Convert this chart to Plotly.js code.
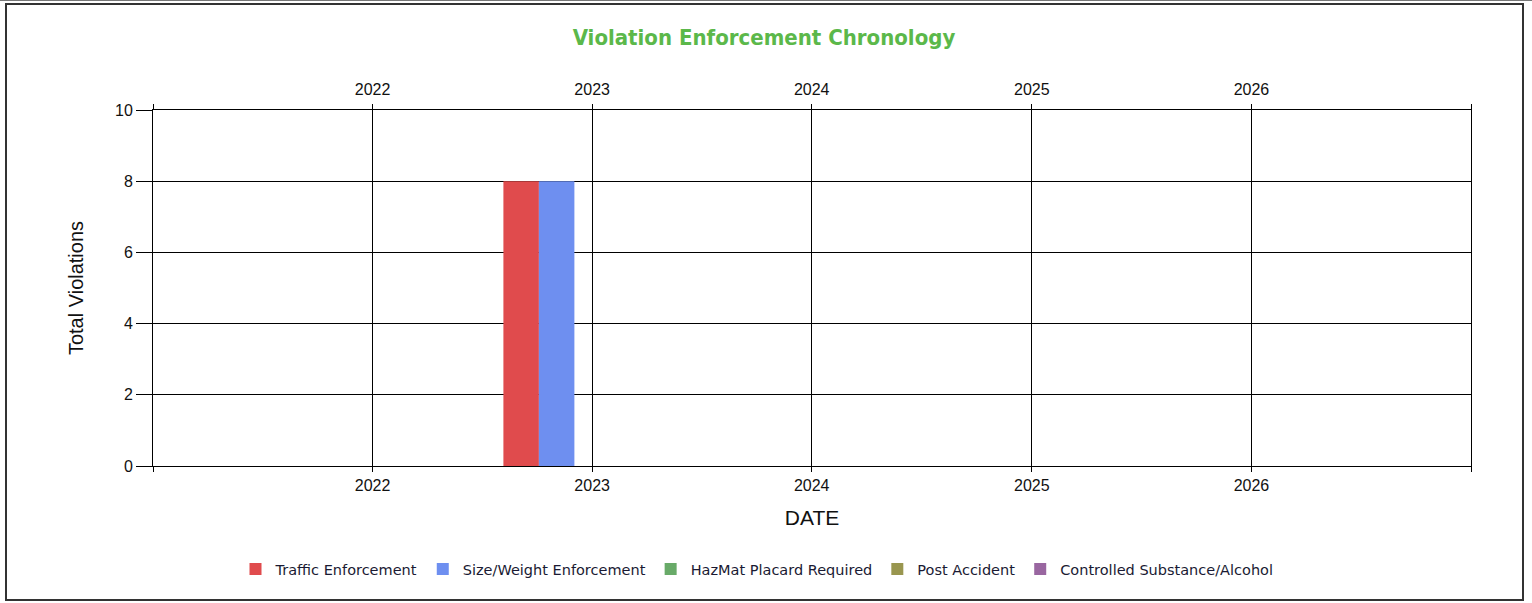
<!DOCTYPE html>
<html>
<head>
<meta charset="utf-8">
<script src="https://cdn.plot.ly/plotly-3.0.1.min.js"></script>
<style>
  html, body { margin: 0; padding: 0; background: #fff; }
  #wrap { position: relative; width: 1532px; height: 603px; }
  #chart { position: absolute; left: 0; top: 0; width: 1532px; height: 603px; }
  #frame { position: absolute; left: 5px; top: 3px; width: 1515px; height: 594px; border: 2px solid #333; pointer-events: none; }
  #topline { position: absolute; left: 0; top: 0; width: 1532px; height: 1px; background: #777; pointer-events: none; }
</style>
</head>
<body>
<div id="wrap">
  <div id="chart"></div>
  <div id="frame"></div>
  <div id="topline"></div>
</div>
<script>
// ---- data ----
const periods = ['2023-01-01'];
const seriesNames = ['Traffic Enforcement', 'Size/Weight Enforcement', 'HazMat Placard Required', 'Post Accident', 'Controlled Substance/Alcohol'];
const trafficEnforcement = [8];
const sizeWeightEnforcement = [8];
const hazmatPlacard = [0];
const postAccident = [0];
const controlledSubstance = [0];
const yearTicks = ['2021-01-01', '2022-01-01', '2023-01-01', '2024-01-01', '2025-01-01', '2026-01-01', '2027-01-01'];
const yearLabels = ['', '2022', '2023', '2024', '2025', '2026', ''];
const colors = ['#E04B4D', '#6E8FF0', '#68AA68', '#99964F', '#9966A0'];

// ---- styling helpers ----
const DAY = 86400000;
const slot = 59 * DAY;
const allValues = [trafficEnforcement, sizeWeightEnforcement, hazmatPlacard, postAccident, controlledSubstance];

const traces = allValues.map((vals, i) => ({
  type: 'bar',
  name: seriesNames[i],
  x: periods,
  y: vals,
  width: periods.map(() => slot),
  offset: periods.map(() => (i - 2.5) * slot),
  marker: { color: colors[i], line: { width: 0 } },
  hoverinfo: 'name+y'
}));

// invisible helper trace so the top date axis is drawn
traces.push({
  type: 'scatter',
  mode: 'none',
  x: periods,
  y: trafficEnforcement,
  xaxis: 'x2',
  yaxis: 'y',
  showlegend: false,
  hoverinfo: 'skip'
});

const tickFont = { family: 'Liberation Sans, Arial, sans-serif', size: 16, color: '#111' };

const layout = {
  width: 1532,
  height: 603,
  margin: { l: 153, r: 61, t: 110, b: 137, pad: 0 },
  paper_bgcolor: '#fff',
  plot_bgcolor: '#fff',
  barmode: 'overlay',
  showlegend: true,
  title: {
    text: '<b>Violation Enforcement Chronology</b>',
    font: { family: 'DejaVu Sans Condensed, DejaVu Sans, sans-serif', size: 22, color: '#5BB84A' },
    xref: 'container', x: 764 / 1532, xanchor: 'center',
    yref: 'container', y: 1 - 37 / 603, yanchor: 'middle'
  },
  xaxis: {
    type: 'date',
    range: ['2021-01-01', '2027-01-01'],
    tickmode: 'array',
    tickvals: yearTicks,
    ticktext: yearLabels,
    ticks: 'outside',
    ticklen: 5,
    tickcolor: '#000',
    tickwidth: 1,
    showgrid: true,
    gridcolor: '#000',
    gridwidth: 1,
    showline: true,
    linecolor: '#000',
    linewidth: 1,
    mirror: true,
    zeroline: false,
    tickfont: tickFont,
    title: { text: 'DATE', font: { family: 'Liberation Sans, Arial, sans-serif', size: 21, color: '#111' }, standoff: 17 },
    fixedrange: true
  },
  xaxis2: {
    type: 'date',
    overlaying: 'x',
    anchor: 'y',
    side: 'top',
    range: ['2021-01-01', '2027-01-01'],
    tickmode: 'array',
    tickvals: yearTicks,
    ticktext: yearLabels,
    ticks: 'outside',
    ticklen: 5,
    ticklabelstandoff: 3,
    tickcolor: '#000',
    showgrid: false,
    showline: false,
    zeroline: false,
    tickfont: tickFont,
    fixedrange: true
  },
  yaxis: {
    range: [0, 10],
    dtick: 2,
    tick0: 0,
    ticks: 'outside',
    ticklen: 16,
    tickcolor: '#000',
    tickwidth: 1,
    showgrid: true,
    gridcolor: '#000',
    gridwidth: 1,
    zeroline: false,
    showline: true,
    linecolor: '#000',
    linewidth: 1,
    mirror: true,
    tickfont: tickFont,
    title: { text: 'Total Violations', font: { family: 'Liberation Sans, Arial, sans-serif', size: 20, color: '#111' }, standoff: 26 },
    fixedrange: true
  },
  legend: {
    orientation: 'h',
    xref: 'container', x: 757 / 1532, xanchor: 'center',
    yref: 'container', y: 1 - 569 / 603, yanchor: 'middle',
    font: { family: 'DejaVu Sans, sans-serif', size: 14.5, color: '#1a1a33' },
    itemgap: 27,
    traceorder: 'normal',
    bgcolor: 'rgba(0,0,0,0)'
  }
};

Plotly.newPlot('chart', traces, layout, { displayModeBar: false, staticPlot: true });
</script>
</body>
</html>
